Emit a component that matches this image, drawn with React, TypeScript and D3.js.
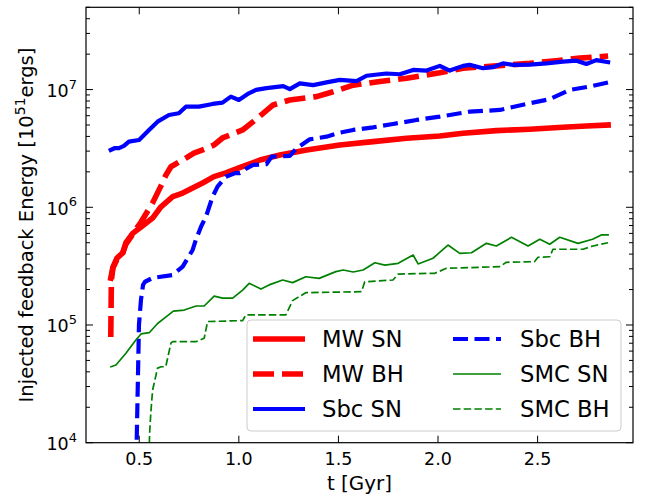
import React from "react";
import * as d3 from "d3";

const W = 649;
const H = 496;
const PL = 86, PR = 633, PT = 7.3, PB = 442.7;

const xDomain: [number, number] = [0.2326, 2.979];
const yDomain: [number, number] = [1e4, 5e7];
const xTicks = [0.5, 1.0, 1.5, 2.0, 2.5];
const xTickLabels = ["0.5", "1.0", "1.5", "2.0", "2.5"];
const yTicks = [1e4, 1e5, 1e6, 1e7];
const yTickExps = ["4", "5", "6", "7"];

// [t (Gyr), energy (1e51 ergs)]
const mwSN: [number, number][] = [
  [0.357, 2.5e5], [0.368, 3.1e5], [0.388, 3.7e5], [0.417, 4.1e5], [0.433, 5.0e5],
  [0.467, 6.0e5], [0.509, 6.8e5], [0.567, 8.1e5], [0.609, 1.01e6], [0.668, 1.23e6],
  [0.718, 1.32e6], [0.768, 1.46e6], [0.818, 1.61e6], [0.875, 1.82e6], [0.935, 1.96e6],
  [1.0, 2.16e6], [1.086, 2.44e6], [1.106, 2.52e6], [1.206, 2.78e6], [1.34, 3.07e6],
  [1.507, 3.38e6], [1.674, 3.61e6], [1.842, 3.86e6], [2.009, 4.03e6], [2.126, 4.25e6],
  [2.293, 4.48e6], [2.46, 4.6e6], [2.627, 4.78e6], [2.745, 4.91e6], [2.854, 5.0e6],
];

const mwBH: [number, number][] = [
  [0.357, 7.9e4], [0.36, 2.4e5], [0.368, 3.07e5], [0.388, 3.6e5], [0.417, 4.09e5],
  [0.433, 4.87e5], [0.467, 5.9e5], [0.509, 7.5e5], [0.567, 1.09e6], [0.609, 1.52e6],
  [0.634, 1.88e6], [0.659, 2.21e6], [0.734, 2.62e6], [0.774, 2.89e6], [0.83, 3.13e6],
  [0.875, 3.38e6], [0.918, 3.88e6], [1.019, 4.54e6], [1.072, 5.34e6], [1.122, 6.29e6],
  [1.172, 7.4e6], [1.256, 8.16e6], [1.39, 8.71e6], [1.473, 9.59e6], [1.574, 1.09e7],
  [1.708, 1.17e7], [1.842, 1.25e7], [2.009, 1.39e7], [2.126, 1.52e7], [2.293, 1.59e7],
  [2.46, 1.67e7], [2.594, 1.76e7], [2.711, 1.85e7], [2.812, 1.9e7], [2.854, 1.93e7],
];

const sbcSN: [number, number][] = [
  [0.357, 3.07e6], [0.378, 3.19e6], [0.398, 3.18e6], [0.423, 3.32e6], [0.448, 3.61e6],
  [0.499, 3.73e6], [0.549, 4.54e6], [0.592, 5.34e6], [0.649, 6.08e6], [0.699, 6.29e6],
  [0.734, 7.16e6], [0.8, 7.16e6], [0.868, 7.55e6], [0.918, 7.74e6], [0.96, 8.71e6],
  [1.0, 8.16e6], [1.05, 9.3e6], [1.086, 9.93e6], [1.139, 1.03e7], [1.223, 1.07e7],
  [1.256, 1.01e7], [1.306, 1.13e7], [1.373, 1.09e7], [1.44, 1.15e7], [1.507, 1.21e7],
  [1.591, 1.18e7], [1.641, 1.31e7], [1.741, 1.37e7], [1.808, 1.35e7], [1.875, 1.47e7],
  [1.942, 1.45e7], [2.009, 1.59e7], [2.059, 1.45e7], [2.126, 1.59e7], [2.159, 1.62e7],
  [2.226, 1.52e7], [2.276, 1.55e7], [2.326, 1.67e7], [2.377, 1.62e7], [2.46, 1.63e7],
  [2.544, 1.67e7], [2.627, 1.73e7], [2.695, 1.76e7], [2.745, 1.65e7], [2.795, 1.78e7],
  [2.854, 1.71e7],
];

const sbcBH: [number, number][] = [
  [0.484, 3e3], [0.487, 1.0e4], [0.4985, 1.0e5], [0.5085, 1.63e5], [0.519, 2.19e5],
  [0.529, 2.33e5], [0.567, 2.51e5], [0.668, 2.66e5], [0.718, 3.13e5], [0.768, 4.34e5],
  [0.784, 5.27e5], [0.81, 6.84e5], [0.835, 8.32e5], [0.868, 1.23e6], [0.893, 1.5e6],
  [0.935, 1.82e6], [0.985, 1.96e6], [1.005, 1.95e6], [1.039, 2.14e6], [1.072, 2.29e6],
  [1.139, 2.33e6], [1.164, 2.69e6], [1.256, 2.73e6], [1.29, 3.17e6], [1.356, 3.78e6],
  [1.44, 3.98e6], [1.507, 4.3e6], [1.574, 4.54e6], [1.674, 4.78e6], [1.774, 5.1e6],
  [1.892, 5.52e6], [2.009, 5.89e6], [2.159, 6.49e6], [2.31, 6.71e6], [2.46, 7.65e6],
  [2.56, 8.27e6], [2.661, 9.93e6], [2.761, 1.06e7], [2.854, 1.15e7],
];

const smcSN: [number, number][] = [
  [0.358, 4.42e4], [0.383, 4.57e4], [0.433, 5.75e4], [0.483, 7.46e4], [0.509, 8.39e4],
  [0.55, 8.6e4], [0.592, 1.03e5], [0.625, 1.14e5], [0.671, 1.31e5], [0.726, 1.34e5],
  [0.785, 1.45e5], [0.826, 1.45e5], [0.876, 1.76e5], [0.918, 1.69e5], [0.969, 1.69e5],
  [1.019, 1.98e5], [1.052, 2.26e5], [1.111, 2.02e5], [1.152, 2.19e5], [1.22, 2.41e5],
  [1.27, 2.29e5], [1.336, 2.57e5], [1.403, 2.49e5], [1.487, 2.84e5], [1.524, 2.93e5],
  [1.574, 2.82e5], [1.624, 2.93e5], [1.683, 3.38e5], [1.733, 3.23e5], [1.8, 3.34e5],
  [1.875, 3.93e5], [1.9, 3.3e5], [1.975, 3.69e5], [2.05, 4.78e5], [2.109, 4.06e5],
  [2.168, 4.11e5], [2.243, 4.94e5], [2.293, 4.69e5], [2.369, 5.56e5], [2.452, 4.69e5],
  [2.511, 5.35e5], [2.561, 4.85e5], [2.611, 5.56e5], [2.703, 4.94e5], [2.776, 5.35e5],
  [2.82, 5.82e5], [2.854, 5.82e5],
];

const smcBH: [number, number][] = [
  [0.549, 8e3], [0.552, 1.2e4], [0.558, 1.8e4], [0.567, 2.8e4], [0.592, 4.3e4],
  [0.61, 4.42e4], [0.633, 4.42e4], [0.659, 7.0e4], [0.668, 7.21e4], [0.785, 7.21e4],
  [0.826, 7.71e4], [0.843, 1.07e5], [1.019, 1.09e5], [1.035, 1.22e5], [1.236, 1.22e5],
  [1.27, 1.61e5], [1.336, 1.88e5], [1.616, 1.92e5], [1.632, 2.33e5], [1.774, 2.41e5],
  [1.8, 2.71e5], [1.984, 2.75e5], [2.042, 3.03e5], [2.31, 3.13e5], [2.343, 3.41e5],
  [2.484, 3.45e5], [2.502, 3.76e5], [2.561, 3.8e5], [2.577, 4.4e5], [2.728, 4.4e5],
  [2.778, 4.69e5], [2.854, 5.0e5],
];

const seriesNames = ["MW SN", "MW BH", "Sbc SN", "Sbc BH", "SMC SN", "SMC BH"];

type Style = { color: string; width: number; dash: string | null };
const styles: Style[] = [
  { color: "#ff0000", width: 5.6, dash: null },
  { color: "#ff0000", width: 5.6, dash: "21,8" },
  { color: "#0000ff", width: 4.2, dash: null },
  { color: "#0000ff", width: 4.2, dash: "15,6.5" },
  { color: "#008000", width: 1.7, dash: null },
  { color: "#008000", width: 1.7, dash: "7.5,3.2" },
];

const allData = [mwSN, mwBH, sbcSN, sbcBH, smcSN, smcBH];
const drawOrder = [0, 1, 2, 3, 4, 5];

const FONT = "DejaVu Sans, Verdana, sans-serif";

export default function App() {
  const x = d3.scaleLinear().domain(xDomain).range([PL, PR]);
  const y = d3.scaleLog().domain(yDomain).range([PB, PT]);
  const line = d3
    .line<[number, number]>()
    .x((d) => x(d[0]))
    .y((d) => y(d[1]));

  const minorY: number[] = [];
  for (let e = 4; e <= 7; e++) {
    for (let k = 2; k <= 9; k++) {
      const v = k * Math.pow(10, e);
      if (v <= yDomain[1]) minorY.push(v);
    }
  }

  const legendRows = [339, 374, 409];
  const legendCols = [
    { x1: 253, x2: 305, tx: 322 },
    { x1: 453, x2: 501, tx: 520 },
  ];

  const MAJ = 7;
  const MIN = 4;

  return (
    <svg
      width={W}
      height={H}
      style={{ position: "absolute", left: 0, top: 0, background: "#fff" }}
      fontFamily={FONT}
    >
      <rect x={0} y={0} width={W} height={H} fill="#fff" />
      <defs>
        <clipPath id="plotclip">
          <rect x={PL} y={PT} width={PR - PL} height={PB - PT} />
        </clipPath>
      </defs>

      <g clipPath="url(#plotclip)">
        {drawOrder.map((i) => (
          <path
            key={i}
            d={line(allData[i]) || ""}
            fill="none"
            stroke={styles[i].color}
            strokeWidth={styles[i].width}
            strokeDasharray={styles[i].dash || undefined}
            strokeLinejoin="round"
            strokeLinecap={styles[i].dash ? "butt" : "square"}
          />
        ))}
      </g>

      {/* ticks */}
      <g stroke="#000" strokeWidth={1}>
        {xTicks.map((t) => (
          <g key={"xt" + t}>
            <line x1={x(t)} x2={x(t)} y1={PB} y2={PB - MAJ} />
            <line x1={x(t)} x2={x(t)} y1={PT} y2={PT + MAJ} />
          </g>
        ))}
        {yTicks.map((v) => (
          <g key={"yt" + v}>
            <line x1={PL} x2={PL + MAJ} y1={y(v)} y2={y(v)} />
            <line x1={PR} x2={PR - MAJ} y1={y(v)} y2={y(v)} />
          </g>
        ))}
        {minorY.map((v) => (
          <g key={"ym" + v}>
            <line x1={PL} x2={PL + MIN} y1={y(v)} y2={y(v)} />
            <line x1={PR} x2={PR - MIN} y1={y(v)} y2={y(v)} />
          </g>
        ))}
      </g>

      {/* frame */}
      <rect
        x={PL}
        y={PT}
        width={PR - PL}
        height={PB - PT}
        fill="none"
        stroke="#000"
        strokeWidth={1.2}
      />

      {/* x tick labels */}
      {xTicks.map((t, i) => (
        <text
          key={"xl" + t}
          x={x(t)}
          y={465}
          fontSize={17.5}
          textAnchor="middle"
          fill="#000"
        >
          {xTickLabels[i]}
        </text>
      ))}

      {/* y tick labels */}
      {yTicks.map((v, i) => (
        <text
          key={"yl" + v}
          x={77}
          y={y(v) + 7.5}
          fontSize={17.5}
          textAnchor="end"
          fill="#000"
        >
          10
          <tspan dy={-8.5} fontSize={13}>
            {yTickExps[i]}
          </tspan>
        </text>
      ))}

      {/* axis labels */}
      <text
        x={(PL + PR) / 2}
        y={490}
        fontSize={19.9}
        textAnchor="middle"
        fill="#000"
      >
        t [Gyr]
      </text>
      <text
        transform={`translate(32.5, ${(PT + PB) / 2}) rotate(-90)`}
        fontSize={19.5}
        textAnchor="middle"
        fill="#000"
      >
        Injected feedback Energy [10
        <tspan dy={-8} fontSize={14}>
          51
        </tspan>
        <tspan dy={8}>ergs]</tspan>
      </text>

      {/* legend */}
      <rect
        x={247}
        y={320}
        width={374}
        height={111}
        rx={4}
        ry={4}
        fill="#fff"
        fillOpacity={0.8}
        stroke="#cccccc"
        strokeWidth={1}
      />
      {seriesNames.map((name, i) => {
        const col = legendCols[Math.floor(i / 3)];
        const ry = legendRows[i % 3];
        const s = styles[i];
        return (
          <g key={"lg" + i}>
            <line
              x1={col.x1}
              x2={col.x2}
              y1={ry}
              y2={ry}
              stroke={s.color}
              strokeWidth={s.width}
              strokeDasharray={s.dash || undefined}
            />
            <text x={col.tx} y={ry + 8.2} fontSize={22.7} fill="#000">
              {name}
            </text>
          </g>
        );
      })}
    </svg>
  );
}
